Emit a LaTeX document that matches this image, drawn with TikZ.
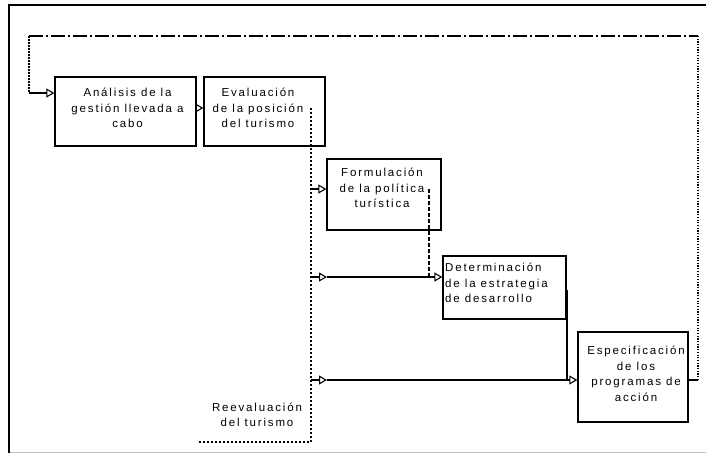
\documentclass[tikz,border=0pt]{standalone}
\usepackage{fontspec}
\setmainfont{Liberation Sans}[LetterSpace=16]
\usetikzlibrary{arrows.meta}
\begin{document}
\begin{tikzpicture}[x=1pt,y=-1pt,
  box/.style={draw,line width=1.3pt,inner sep=0pt,fill=none},
  lbl/.style={font=\fontsize{11.5}{15.5}\selectfont,inner sep=0pt,align=center},
  arr/.style={-{Triangle[open,length=8pt,width=9pt,line width=1.1pt]}},
  fbdashdot/.style={line width=1.2pt,dash pattern=on 14pt off 3pt on 2pt off 3pt},
  fbdotleft/.style={line width=1.8pt,dash pattern=on 1.5pt off 1.5pt},
  fbdotright/.style={line width=1.3pt,dash pattern=on 1.2pt off 1.5pt},
  evdash/.style={line width=1.4pt,dash pattern=on 2pt off 2pt},
  fdash/.style={line width=1.3pt,dash pattern=on 4pt off 2pt},
  heavy/.style={line width=2.6pt},
  thin/.style={line width=1.2pt}]
\useasboundingbox (0,0) rectangle (706,453);
% frame
\draw[line width=1.6pt] (9,453) -- (9,5) -- (706,5);
\draw[black!25,line width=1pt] (10,452) -- (706,452);
% boxes
\node[box,minimum width=141pt,minimum height=69pt] (A) at (125.5,111.5) {};
\node[box,minimum width=121pt,minimum height=69pt] (B) at (264.5,111.5) {};
\node[box,minimum width=114pt,minimum height=71pt] (F) at (384,194.5) {};
\node[box,minimum width=123pt,minimum height=63pt] (D) at (504.5,287.5) {};
\node[box,minimum width=110pt,minimum height=90pt] (E) at (633,377) {};
% labels
\node[lbl] (LA) at (127.5,108) {Análisis de la\\gestión llevada a\\cabo};
\node[lbl] (LB) at (258,108) {Evaluación\\de la posición\\del turismo};
\node[lbl] (LF) at (382,188) {Formulación\\de la política\\turística};
\node[lbl,align=left,anchor=west] (LD) at (445,283) {Determinación\\de la estrategia\\de desarrollo};
\node[lbl] (LE) at (636,374) {Especificación\\de los\\programas de\\acción};
\node[lbl] (LR) at (257,415) {Reevaluación\\del turismo};
% coordinates
\coordinate (fbL) at (29,36);
\coordinate (fbR) at (698,36);
\coordinate (inA) at (29,93);
\coordinate (outE) at (698,380);
\coordinate (ab) at (200,108);
\coordinate (ev1) at (311,108);
\coordinate (ev2) at (311,442);
\coordinate (rev) at (197,442);
\coordinate (bF) at (311,189);
\coordinate (f1) at (429,189);
\coordinate (f2) at (429,277);
\coordinate (bD) at (311,277);
\coordinate (mD) at (327,277);
\coordinate (d1) at (567,290);
\coordinate (d2) at (567,380);
\coordinate (bE) at (311,380);
\coordinate (mE) at (327,380);
% feedback loop
\draw[fbdashdot] (fbL) -- (fbR);
\draw[fbdotleft] (fbL) -- (inA);
\draw[arr,thin] (inA) -- (inA -| A.west);
\draw[heavy] (E.east |- outE) -- (outE);
\draw[fbdotright] (outE) -- (fbR);
% A -> B
\draw[arr,thin] (ab -| A.east) -- (ab -| B.west);
% evaluation line
\draw[evdash] (ev1) -- (ev2) -- (rev);
\draw[arr,thin] (bF) -- (bF -| F.west);
% formulation line
\draw[fdash] (f1) -- (f2);
\draw[arr,thin] (f2) -- (f2 -| D.west);
\draw[arr,heavy] (bD) -- (mD);
\draw[heavy] (mD) -- (f2);
% determination line
\draw[heavy] (d1) -- (d2);
\draw[arr,thin] (d2) -- (d2 -| E.west);
\draw[arr,heavy] (bE) -- (mE);
\draw[heavy] (mE) -- (d2);
\end{tikzpicture}
\end{document}
